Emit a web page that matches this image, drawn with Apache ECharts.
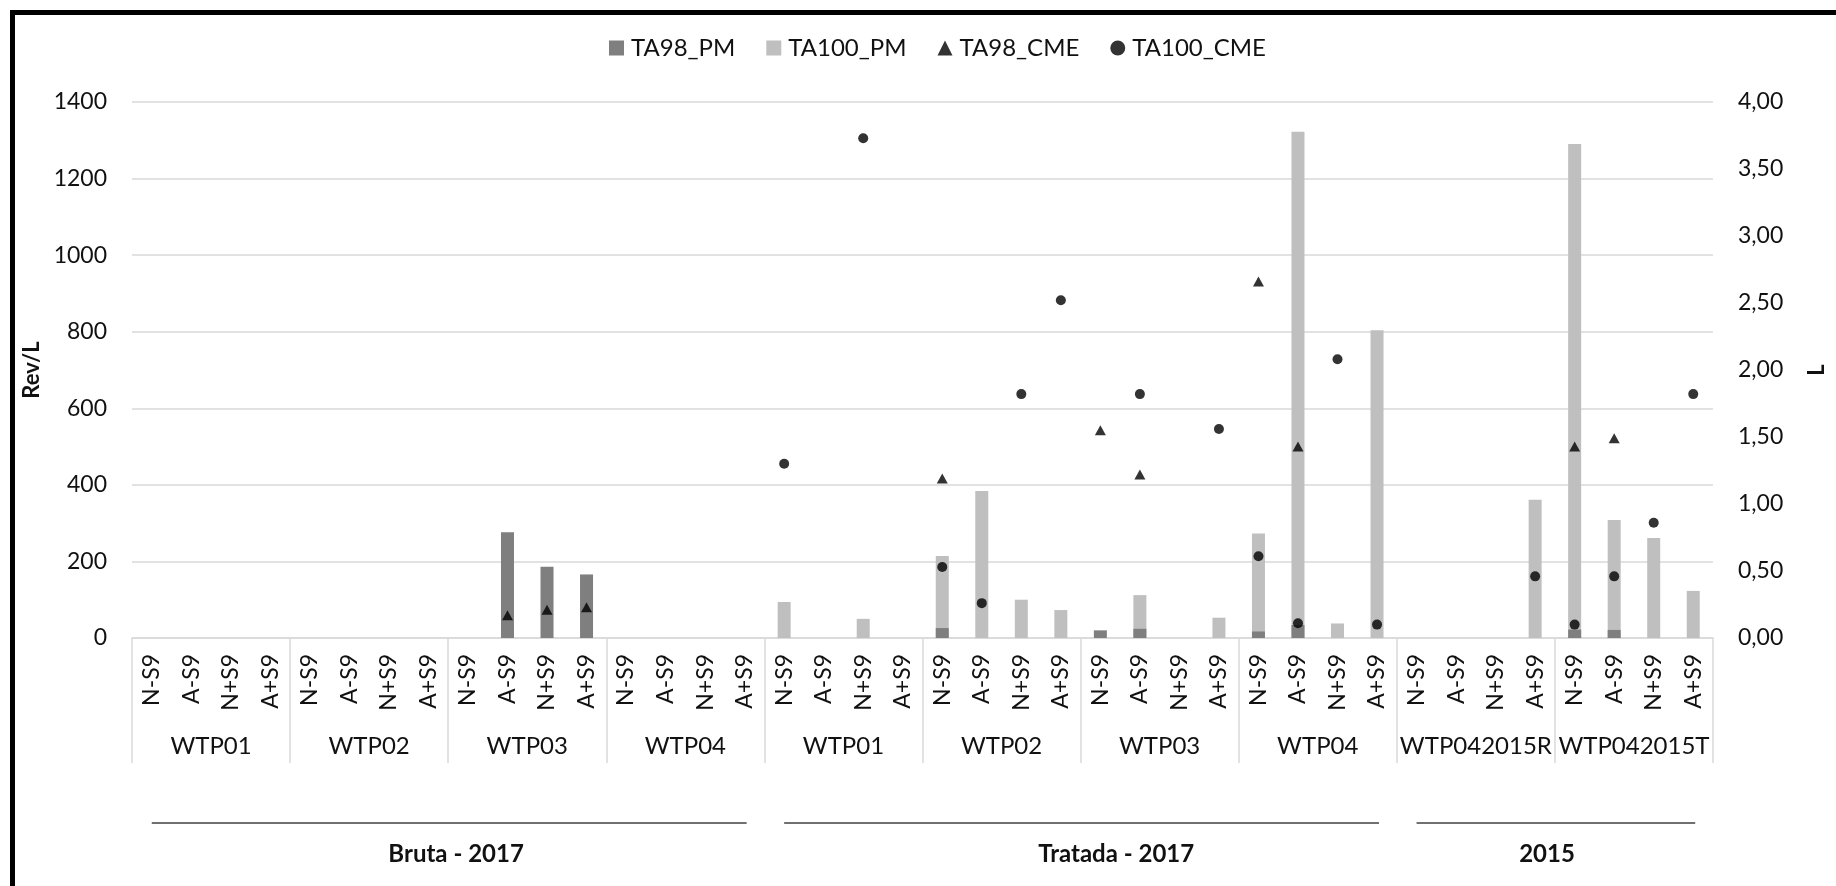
<!DOCTYPE html>
<html>
<head>
<meta charset="utf-8">
<script src="https://cdn.jsdelivr.net/npm/echarts@6/dist/echarts.min.js"></script>
<style>
html,body{margin:0;padding:0;background:#fff;}
#chart{width:1836px;height:886px;}
</style>
</head>
<body>
<div id="chart"></div>
<script>
// ---- data ----
const subLabels = ["N-S9", "A-S9", "N+S9", "A+S9"];
const groups = ["WTP01", "WTP02", "WTP03", "WTP04", "WTP01", "WTP02", "WTP03", "WTP04", "WTP042015R", "WTP042015T"];
const superGroups = ["Bruta - 2017", "Tratada - 2017", "2015"];
const superSpans = [16, 16, 8];
const categories = [];
groups.forEach(function (g) { subLabels.forEach(function (s) { categories.push(s); }); });

const ta98PM = [
  null, null, null, null,   null, null, null, null,   null, 276, 186, 166,   null, null, null, null,
  null, null, null, null,   26, null, null, null,     20, 24, null, null,    17, 34, null, null,
  null, null, null, null,   22, 21, null, null
];
const ta100PM = [
  null, null, null, null,   null, null, null, null,   null, null, null, null,   null, null, null, null,
  94, null, 50, null,       214, 384, 100, 73,        null, 112, null, 53,   273, 1322, 38, 804,
  null, null, null, 361,    1290, 308, 261, 123
];
const ta98CME = [
  null, null, null, null,   null, null, null, null,   null, 0.17, 0.21, 0.23,   null, null, null, null,
  null, null, null, null,   1.19, null, null, null,   1.55, 1.22, null, null,   2.66, 1.43, null, null,
  null, null, null, null,   1.43, 1.49, null, null
];
const ta100CME = [
  null, null, null, null,   null, null, null, null,   null, null, null, null,   null, null, null, null,
  1.30, null, 3.73, null,   0.53, 0.26, 1.82, 2.52,   null, 1.82, null, 1.56,   0.61, 0.11, 2.08, 0.10,
  null, null, null, 0.46,   0.10, 0.46, 0.86, 1.82
];
const leftTicks = { min: 0, max: 1400, interval: 200 };
const rightTicks = { min: 0, max: 4, interval: 0.5 };

// ---- chart ----
const FONT = "Lato";
const TXT = "#111";
const superStart = [];
const superLabelPos = [];
const labelShift = [0.2, 0.9, -0.2];
(function () {
  let s = 0;
  superSpans.forEach(function (w, i) {
    superStart.push(s);
    superLabelPos.push(s + w / 2 + labelShift[i]);
    s += w;
  });
})();

const chart = echarts.init(document.getElementById('chart'), null, { renderer: 'canvas' });
const option = {
  backgroundColor: '#fff',
  animation: false,
  textStyle: { fontFamily: FONT },
  legend: {
    data: [
      { name: 'TA98_PM', icon: 'rect' },
      { name: 'TA100_PM', icon: 'rect' },
      { name: 'TA98_CME', icon: 'triangle' },
      { name: 'TA100_CME', icon: 'circle' }
    ],
    left: 604,
    top: 31,
    itemWidth: 15,
    itemHeight: 15,
    itemGap: 31,
    textStyle: { fontFamily: FONT, fontSize: 24, color: TXT, padding: [0, 0, 0, 2] }
  },
  grid: { left: 132, right: 104, top: 102, bottom: 248, containLabel: false },
  xAxis: [
    {
      type: 'category',
      data: categories,
      position: 'bottom',
      axisLine: { show: true, lineStyle: { color: '#d9d9d9', width: 1.5 } },
      axisTick: { show: false },
      axisLabel: { interval: 0, rotate: 90, fontFamily: FONT, fontSize: 23, color: TXT, margin: 16 },
      splitLine: { show: false }
    },
    {
      type: 'category',
      data: groups,
      position: 'bottom',
      axisLine: { show: false },
      axisTick: { show: true, length: 125, lineStyle: { color: '#d9d9d9', width: 1.5 } },
      axisLabel: { interval: 0, fontFamily: FONT, fontSize: 24, color: TXT, margin: 96 },
      splitLine: { show: false }
    },
    {
      type: 'value',
      min: 0,
      max: categories.length,
      position: 'bottom',
      axisLine: { show: false },
      axisTick: { show: false },
      splitLine: { show: false },
      axisLabel: {
        customValues: superLabelPos,
        fontFamily: FONT, fontSize: 24, fontWeight: 'bold', color: TXT, margin: 204,
        formatter: function (v) {
          for (let i = 0; i < superLabelPos.length; i++) {
            if (Math.abs(superLabelPos[i] - v) < 1e-6) return superGroups[i];
          }
          return '';
        }
      }
    }
  ],
  yAxis: [
    {
      type: 'value',
      min: leftTicks.min, max: leftTicks.max, interval: leftTicks.interval,
      name: 'Rev/L',
      nameLocation: 'middle',
      nameGap: 88,
      nameRotate: 90,
      nameTextStyle: { fontFamily: FONT, fontSize: 22, fontWeight: 'bold', color: TXT },
      axisLine: { show: false },
      axisTick: { show: false },
      axisLabel: {
        fontFamily: FONT, fontSize: 23, color: TXT, margin: 25,
        formatter: function (v) { return String(v); }
      },
      splitLine: { show: true, lineStyle: { color: '#d9d9d9', width: 1.5 } }
    },
    {
      type: 'value',
      position: 'right',
      min: rightTicks.min, max: rightTicks.max, interval: rightTicks.interval,
      name: 'L',
      nameLocation: 'middle',
      nameGap: 93,
      nameRotate: 90,
      nameTextStyle: { fontFamily: FONT, fontSize: 22, fontWeight: 'bold', color: TXT },
      axisLine: { show: false },
      axisTick: { show: false },
      axisLabel: {
        fontFamily: FONT, fontSize: 23, color: TXT, margin: 25,
        formatter: function (v) { return v.toFixed(2).replace('.', ','); }
      },
      splitLine: { show: false }
    }
  ],
  series: [
    {
      name: 'TA98_PM', type: 'bar', xAxisIndex: 0, yAxisIndex: 0,
      data: ta98PM, barWidth: 13, barGap: '-100%', z: 3,
      itemStyle: { color: '#7f7f7f' }
    },
    {
      name: 'TA100_PM', type: 'bar', xAxisIndex: 0, yAxisIndex: 0,
      data: ta100PM, barWidth: 13, barGap: '-100%', z: 2,
      itemStyle: { color: '#bfbfbf' }
    },
    {
      name: 'TA98_CME', type: 'scatter', xAxisIndex: 0, yAxisIndex: 1,
      data: ta98CME, symbol: 'triangle', symbolSize: [11, 10], z: 5,
      itemStyle: { color: '#000' }
    },
    {
      name: 'TA100_CME', type: 'scatter', xAxisIndex: 0, yAxisIndex: 1,
      data: ta100CME, symbol: 'circle', symbolSize: 10, z: 5,
      itemStyle: { color: '#000' }
    }
  ]
};
chart.setOption(option);

// frame and super-group lines under the group labels, positioned via the value axis scale
const lineY = 823;
const graphics = [
  { type: 'line', shape: { x1: 12.5, y1: 10, x2: 12.5, y2: 886 }, style: { stroke: '#000', lineWidth: 5 }, z: 10 },
  { type: 'line', shape: { x1: 10, y1: 12.5, x2: 1836, y2: 12.5 }, style: { stroke: '#000', lineWidth: 5 }, z: 10 }
];
superSpans.forEach(function (w, i) {
  const a = chart.convertToPixel({ xAxisIndex: 2 }, superStart[i] + 0.5);
  const b = chart.convertToPixel({ xAxisIndex: 2 }, superStart[i] + w - 0.45);
  graphics.push({ type: 'line', shape: { x1: a, y1: lineY, x2: b, y2: lineY }, style: { stroke: '#404040', lineWidth: 1.5 } });
});
chart.setOption({ graphic: graphics });
</script>
</body>
</html>
